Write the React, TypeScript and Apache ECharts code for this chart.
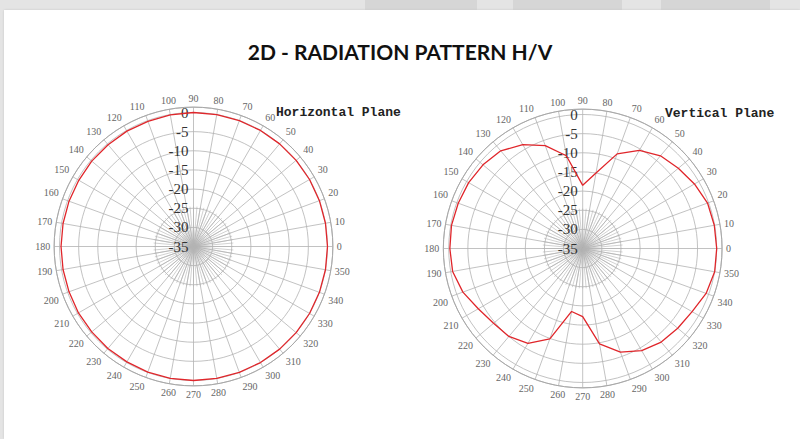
import React, { useEffect, useRef } from "react";
import * as echarts from "echarts";

const TITLE = "2D - RADIATION PATTERN H/V";
const PLANE_TITLES = ["Horizontal Plane", "Vertical Plane"];

// angles in degrees (0 = right, counter-clockwise)
const ANGLES = [
  0, 10, 20, 30, 40, 50, 60, 70, 80, 90, 100, 110, 120, 130, 140, 150, 160, 170,
  180, 190, 200, 210, 220, 230, 240, 250, 260, 270, 280, 290, 300, 310, 320, 330, 340, 350,
];

// relative gain in dB
const HORIZONTAL_DB = [
  0, 0, 0, 0, 0, 0, 0, 0, 0, 0, -0.1, -0.2, -0.2, -0.3, -0.3, -0.4, -0.4, -0.4,
  -0.4, -0.4, -0.4, -0.3, -0.3, -0.2, -0.2, -0.1, 0, 0, 0, 0, 0, 0, 0, 0, 0, 0,
];

const VERTICAL_DB = [
  0, -0.1, -0.3, -1.3, -2.4, -3.4, -5.4, -8.7, -15, -18.5, -10.4, -6.4, -3.7, -1.7, -1.0, -0.6, -0.4, -0.2,
  -0.3, -0.5, -1.7, -3.5, -4.6, -5.0, -6.4, -9.9, -18.3, -17.2, -9.7, -6.2, -4.2, -3.1, -2.6, -2.0, -0.7, 0,
];

const R_MIN = -35;
const R_MAX = 1.4;
const R_STEP = 5;

const CENTERS: [number, number][] = [
  [193.5, 246.5],
  [582.7, 248.5],
];
const R0 = 134;
const OUTER = (R0 * (R_MAX - R_MIN)) / -R_MIN;

const GRID = "#b3b3b3";

function buildData(db: number[]) {
  const d = ANGLES.map((a, i) => [db[i], a]);
  d.push([db[0], 360]);
  return d;
}

export default function App() {
  const ref = useRef<HTMLDivElement>(null);

  useEffect(() => {
    if (!ref.current) return;
    const chart = echarts.init(ref.current, undefined, { renderer: "svg" });

    const polar: any[] = [];
    const angleAxis: any[] = [];
    const radiusAxis: any[] = [];

    // main polars 0,1
    CENTERS.forEach((c, i) => {
      polar.push({ center: c, radius: OUTER });
      angleAxis.push({
        polarIndex: i,
        type: "value",
        min: 0,
        max: 360,
        interval: 10,
        startAngle: 0,
        clockwise: false,
        axisLine: { show: true, lineStyle: { color: "#a8a8a8", width: 1 } },
        axisTick: { show: false },
        axisLabel: {
          show: true,
          margin: 4,
          fontSize: 10,
          color: "#666",
          fontFamily: "Liberation Serif",
          formatter: (v: number) => (v === 360 ? "" : String(v)),
        },
        splitLine: { show: true, lineStyle: { color: GRID, width: 0.8 } },
      });
      radiusAxis.push({
        polarIndex: i,
        type: "value",
        min: R_MIN,
        max: R_MAX,
        interval: R_STEP,
        axisLine: { show: false },
        axisTick: { show: false },
        axisLabel: { show: false },
        splitLine: { show: true, lineStyle: { color: GRID, width: 0.8 } },
      });
    });
    // inner fine spokes 2,3
    CENTERS.forEach((c, i) => {
      polar.push({ center: c, radius: 40 });
      angleAxis.push({
        polarIndex: 2 + i,
        type: "value",
        min: 0,
        max: 360,
        interval: 5,
        startAngle: 0,
        clockwise: false,
        axisLine: { show: false },
        axisTick: { show: false },
        axisLabel: { show: false },
        splitLine: { show: true, lineStyle: { color: GRID, width: 0.6 } },
      });
      radiusAxis.push({
        polarIndex: 2 + i,
        type: "value",
        min: 0,
        max: 1,
        axisLine: { show: false },
        axisTick: { show: false },
        axisLabel: { show: false },
        splitLine: { show: false },
      });
    });
    // radius labels polars 4,5 (vertical axis)
    CENTERS.forEach((c, i) => {
      polar.push({ center: c, radius: OUTER });
      angleAxis.push({
        polarIndex: 4 + i,
        type: "value",
        min: 0,
        max: 360,
        startAngle: 90,
        axisLine: { show: false },
        axisTick: { show: false },
        axisLabel: { show: false },
        splitLine: { show: false },
      });
      radiusAxis.push({
        polarIndex: 4 + i,
        type: "value",
        min: R_MIN,
        max: R_MAX,
        interval: R_STEP,
        z: 5,
        axisLine: { show: false },
        axisTick: { show: false },
        splitLine: { show: false },
        axisLabel: {
          show: true,
          margin: 5,
          fontSize: 15,
          color: "#333",
          fontFamily: "Liberation Serif",
          formatter: (v: number) => (v > 0.01 ? "" : String(v)),
        },
      });
    });

    chart.setOption({
      animation: false,
      title: [
        {
          text: TITLE,
          left: "center",
          top: 41,
          padding: 0,
          textStyle: { fontFamily: "Lato", fontWeight: "bold", fontSize: 21, color: "#111" },
        },
        {
          text: PLANE_TITLES[0],
          left: 276,
          top: 106,
          padding: 0,
          textStyle: { fontFamily: "Liberation Mono", fontWeight: "bold", fontSize: 13, color: "#222" },
        },
        {
          text: PLANE_TITLES[1],
          left: 665,
          top: 107,
          padding: 0,
          textStyle: { fontFamily: "Liberation Mono", fontWeight: "bold", fontSize: 13, color: "#222" },
        },
      ],
      polar,
      angleAxis,
      radiusAxis,
      series: [
        {
          type: "line",
          coordinateSystem: "polar",
          polarIndex: 0,
          data: buildData(HORIZONTAL_DB),
          symbol: "none",
          silent: true,
          lineStyle: { color: "#e0262b", width: 1.3 },
          z: 10,
        },
        {
          type: "line",
          coordinateSystem: "polar",
          polarIndex: 1,
          data: buildData(VERTICAL_DB),
          symbol: "none",
          silent: true,
          lineStyle: { color: "#e0262b", width: 1.3 },
          z: 10,
        },
      ],
    });

    return () => chart.dispose();
  }, []);

  return (
    <div style={{ position: "fixed", left: 0, top: 0, width: 800, height: 439, background: "#e4e4e4", overflow: "hidden" }}>
      <div style={{ position: "absolute", left: 365, top: 0, width: 112, height: 10, background: "#d6d6d6" }} />
      <div style={{ position: "absolute", left: 513, top: 0, width: 109, height: 10, background: "#d6d6d6" }} />
      <div style={{ position: "absolute", left: 661, top: 0, width: 109, height: 10, background: "#d6d6d6" }} />
      <div style={{ position: "absolute", left: 4, top: 10, width: 796, height: 429, background: "#ffffff", boxShadow: "0 0 2px #c8c8c8" }} />
      <div ref={ref} style={{ position: "absolute", left: 0, top: 0, width: 800, height: 439 }} />
    </div>
  );
}
